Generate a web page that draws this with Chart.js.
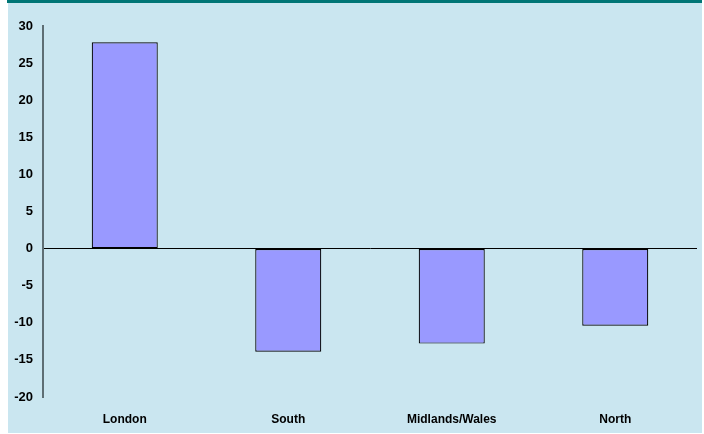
<!DOCTYPE html>
<html>
<head>
<meta charset="utf-8">
<script src="https://cdn.jsdelivr.net/npm/chart.js@4/dist/chart.umd.min.js"></script>
<style>
html,body{margin:0;padding:0;background:#ffffff;}
#wrap{width:704px;height:434px;position:relative;}
</style>
</head>
<body>
<div id="wrap"><canvas id="c" width="704" height="434"></canvas></div>
<script>
const categories = ["London", "South", "Midlands/Wales", "North"];
const values = [27.8, -13.9, -12.8, -10.4];
const yTicks = [30, 25, 20, 15, 10, 5, 0, -5, -10, -15, -20];

const FONT = '"Liberation Sans", Arial, sans-serif';

const bgPlugin = {
  id: 'bg',
  beforeDraw(chart) {
    const ctx = chart.ctx;
    ctx.save();
    ctx.fillStyle = '#ffffff';
    ctx.fillRect(0, 0, chart.width, chart.height);
    ctx.fillStyle = '#cae6f0';
    ctx.fillRect(8, 3, 694, 430);
    ctx.fillStyle = '#007676';
    ctx.fillRect(7, 0, 695, 3);
    ctx.restore();
  }
};

new Chart(document.getElementById('c'), {
  type: 'bar',
  data: {
    labels: categories,
    datasets: [{
      data: values,
      backgroundColor: '#9999ff',
      borderColor: '#000000',
      borderWidth: 1.2,
      borderSkipped: false,
      barPercentage: 0.404,
      categoryPercentage: 1.0
    }]
  },
  options: {
    responsive: false,
    animation: false,
    devicePixelRatio: 1,
    layout: { padding: { left: 0, right: 7, top: 26, bottom: 0 } },
    plugins: { legend: { display: false }, tooltip: { enabled: false } },
    scales: {
      x: {
        grid: { display: false, drawTicks: false },
        border: { display: false },
        ticks: {
          color: '#000000',
          font: { family: FONT, size: 12, weight: 'bold' },
          padding: 15,
          maxRotation: 0,
          autoSkip: false
        },
        afterFit(scale) { scale.height = 37; }
      },
      y: {
        min: -20,
        max: 30,
        afterBuildTicks(scale) { scale.ticks = yTicks.map(v => ({ value: v })); },
        grid: {
          drawTicks: false,
          color: ctx => (ctx.tick && ctx.tick.value === 0) ? '#000000' : 'rgba(0,0,0,0)',
          lineWidth: 1
        },
        border: { display: true, color: '#5e6e74', width: 2 },
        ticks: {
          color: '#000000',
          font: { family: FONT, size: 13, weight: 'bold' },
          padding: 10
        },
        afterFit(scale) { scale.width = 43; }
      }
    }
  },
  plugins: [bgPlugin]
});
</script>
</body>
</html>
